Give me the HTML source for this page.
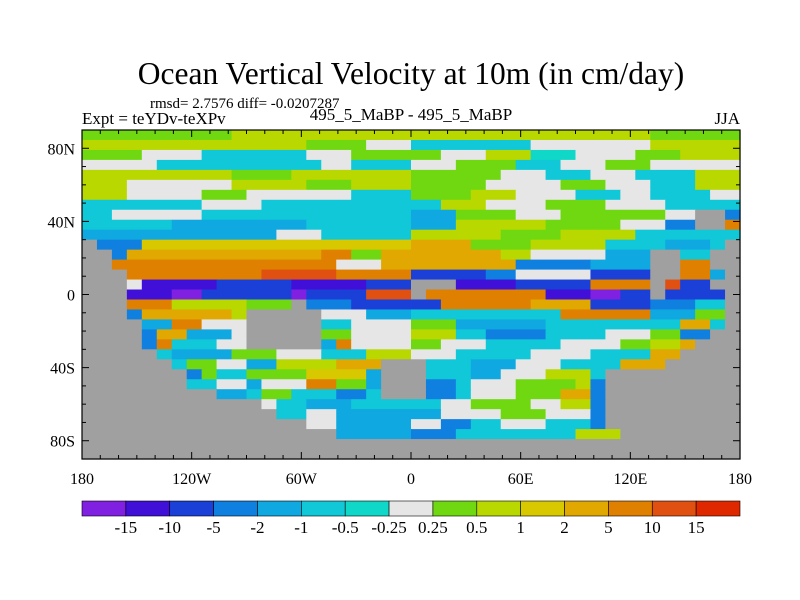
<!DOCTYPE html>
<html><head><meta charset="utf-8"><style>
body{margin:0;background:#fff;}
svg{display:block;font-family:"Liberation Serif",serif;}
</style></head><body>
<svg id="chart" width="800" height="600" viewBox="0 0 800 600">
<rect width="800" height="600" fill="#fff"/>
<text x="411" y="84" font-size="31.5" text-anchor="middle">Ocean Vertical Velocity at 10m (in cm/day)</text>
<text x="150" y="108" font-size="15">rmsd= 2.7576 diff= -0.0207287</text>
<text x="82" y="124" font-size="17">Expt = teYDv-teXPv</text>
<text x="411" y="120" font-size="17" text-anchor="middle">495_5_MaBP - 495_5_MaBP</text>
<text x="740" y="124" font-size="17" text-anchor="end">JJA</text>
<g id="map"></g>
<g id="axes"></g>
<g id="cbar"></g>
</svg>
<script>
const levelColors=["#8020e0","#4010d8","#1a40d8","#1080e0","#10a8e0","#10c8d8","#10d8c8","#e6e6e6","#70d810","#b8d800","#d8c800","#e0a800","#e08000","#e05010","#e02800"];
const landColor="#a0a0a0";
const cbarLabels=["-15","-10","-5","-2","-1","-0.5","-0.25","0.25","0.5","1","2","5","10","15"];
const latTicks=[80,40,0,-40,-80];
const latTickLabels=["80N","40N","0","40S","80S"];
const lonTicks=[-180,-120,-60,0,60,120,180];
const lonTickLabels=["180","120W","60W","0","60E","120E","180"];
const nCols=44, nRows=33;
const fieldRows=[
"0-9i,10-37j,38-43i",
"0-14j,15-18i,19-21h,22-29f,30-37h,38-43j",
"0-3i,4-7h,8-14f,15-17h,18-23i,24-26h,27-29j,30-32g,33-36h,37-39i,40-43j",
"0-4h,5-15f,16-17h,18-21f,22-24h,25-28i,29-31f,32-34h,35-37i,38-43h",
"0-9j,10-13i,14-21j,22-27i,28-30h,31-33f,34-36h,37-40f,41-43j",
"0-2j,3-9h,10-14j,15-17i,18-21j,22-26i,27-31h,32-34i,35-37h,38-40f,41-43j",
"0-2j,3-7h,8-10i,11-17h,18-21f,22-25i,26-28j,29-32h,33-35f,36-37h,38-41f,42-43h",
"0-7f,8-11h,12-23f,24-26j,27-30h,31-34i,35-38h,39-43f",
"0-1f,2-7h,8-21f,22-24e,25-28i,29-31h,32-38i,39-40h,41-42#,43-43d",
"0-5f,6-14e,15-21f,22-24e,25-30j,31-35i,36-38h,39-40d,41-42#,43-43m",
"0-12e,13-15h,16-21f,22-27j,28-31i,32-36j,37-43f",
"0-0#,1-3d,4-21k,22-25l,26-29i,30-34j,35-38f,39-41e,42-42f,43-43#",
"0-1#,2-2d,3-15l,16-17m,18-19i,20-27l,28-29j,30-34h,35-37e,38-39#,40-41f,42-43#",
"0-1#,2-16m,17-19h,20-28l,29-33d,34-37e,38-39#,40-41m,42-43#",
"0-2#,3-11m,12-16n,17-21m,22-26c,27-28d,29-33h,34-37c,38-39#,40-41m,42-42e,43-43#",
"0-2#,3-3h,4-8b,9-13c,14-18b,19-21c,22-24#,25-28b,29-33c,34-37m,38-38#,39-39n,40-41c,42-43#",
"0-2#,3-5b,6-7a,8-13c,14-14a,15-18c,19-21n,22-22#,23-30m,31-33b,34-35a,36-37c,38-38#,39-42c,43-43#",
"0-2#,3-5m,6-10j,11-13i,14-14#,15-17d,18-23c,24-29m,30-33l,34-37c,38-40d,41-42f,43-43#",
"0-2#,3-3d,4-9l,10-10j,11-15#,16-18h,19-21e,22-31f,32-37m,38-40e,41-42i,43-43#",
"0-3#,4-5e,6-7m,8-10h,11-15#,16-17f,18-21h,22-24i,25-30e,31-39f,40-41l,42-42f,43-43#",
"0-3#,4-4d,5-6l,7-9e,10-10h,11-15#,16-17i,18-21h,22-24j,25-26f,27-30d,31-34f,35-37h,38-39i,40-41d,42-43#",
"0-3#,4-4d,5-5m,6-8f,9-10h,11-15#,16-16e,17-17m,18-21h,22-23i,24-26h,27-31f,32-35h,36-37i,38-39j,40-40l,41-43#",
"0-4#,5-5f,6-9e,10-12i,13-15h,16-18f,19-21j,22-24h,25-29f,30-33h,34-37f,38-39l,40-43#",
"0-5#,6-6f,7-8i,9-10h,11-12e,13-16j,17-19l,20-22#,23-25f,26-28e,29-31h,32-35f,36-38l,39-43#",
"0-6#,7-7d,8-8i,9-10f,11-14i,15-18k,19-19e,20-22#,23-25f,26-27e,28-30h,31-33j,34-34f,35-43#",
"0-6#,7-8f,9-10h,11-11e,12-14h,15-16m,17-18i,19-19e,20-22#,23-24d,25-25f,26-28h,29-32i,33-33j,34-34d,35-43#",
"0-8#,9-10e,11-11f,12-13i,14-16f,17-18d,19-19f,20-22#,23-24d,25-25f,26-28h,29-31i,32-33l,34-34d,35-43#",
"0-11#,12-12h,13-14f,15-17e,18-23f,24-25h,26-29i,30-31h,32-33j,34-34d,35-43#",
"0-12#,13-14f,15-16h,17-23e,24-27h,28-30i,31-33h,34-34d,35-43#",
"0-14#,15-16h,17-21e,22-23h,24-25d,26-27f,28-30h,31-33f,34-34d,35-43#",
"0-16#,17-21e,22-24d,25-32f,33-35j,36-43#",
"0-43#",
"0-43#"
];
const NS="http://www.w3.org/2000/svg";
const X0=82,X1=740,Y0=130,Y1=459;
function xOf(lon){return X0+(lon+180)/360*(X1-X0);}
function yOf(lat){return Y0+(90-lat)/180*(Y1-Y0);}
function mk(tag,attrs,parent){const e=document.createElementNS(NS,tag);for(const k in attrs)e.setAttribute(k,attrs[k]);parent.appendChild(e);return e;}
const map=document.getElementById('map');
const dLon=360/nCols, dLat=180/nRows;
fieldRows.forEach((row,r)=>{
  row.split(',').forEach(seg=>{
    const m=seg.match(/(\d+)-(\d+)(.)/);
    const a=+m[1], b=+m[2], code=m[3];
    const lonA=-180+a*dLon, lonB=-180+(b+1)*dLon;
    const latT=90-r*dLat, latB=90-(r+1)*dLat;
    const fill=code==='#'?landColor:levelColors[code.charCodeAt(0)-97];
    const rc=mk('rect',{x:xOf(lonA),y:yOf(latT),width:xOf(lonB)-xOf(lonA)+0.6,height:yOf(latB)-yOf(latT)+0.6,fill:fill},map);
    
    
  });
});
const ax=document.getElementById('axes');
mk('rect',{x:X0,y:Y0,width:X1-X0,height:Y1-Y0,fill:'none',stroke:'#000','stroke-width':1.2},ax);
for(let lon=-180;lon<=180;lon+=10){
  const major=lon%60===0, L=major?7:4, x=xOf(lon);
  mk('line',{x1:x,y1:Y1,x2:x,y2:Y1-L,stroke:'#000'},ax);
  mk('line',{x1:x,y1:Y0,x2:x,y2:Y0+L,stroke:'#000'},ax);
}
for(let lat=-90;lat<=90;lat+=10){
  const major=lat%40===0, L=major?7:4, y=yOf(lat);
  mk('line',{x1:X0,y1:y,x2:X0+L,y2:y,stroke:'#000'},ax);
  mk('line',{x1:X1,y1:y,x2:X1-L,y2:y,stroke:'#000'},ax);
}
latTicks.forEach((v,i)=>{
  const t=mk('text',{x:75,y:yOf(v)+6,'font-size':16,'text-anchor':'end'},ax);
  t.textContent=latTickLabels[i];
  
  
});
lonTicks.forEach((v,i)=>{
  const t=mk('text',{x:xOf(v),y:484,'font-size':16,'text-anchor':'middle'},ax);
  t.textContent=lonTickLabels[i];
  
  
});
const cb=document.getElementById('cbar');
const CB0=82,CB1=740,CBY=501,CBH=15,bw=(CB1-CB0)/levelColors.length;
levelColors.forEach((c,i)=>{
  const r=mk('rect',{x:CB0+i*bw,y:CBY,width:bw,height:CBH,fill:c,stroke:'#000','stroke-width':0.6},cb);
  
  
});
cbarLabels.forEach((l,i)=>{
  const t=mk('text',{x:CB0+(i+1)*bw,y:533,'font-size':17,'text-anchor':'middle'},cb);
  t.textContent=l;
  
  
});
</script>
</body></html>
